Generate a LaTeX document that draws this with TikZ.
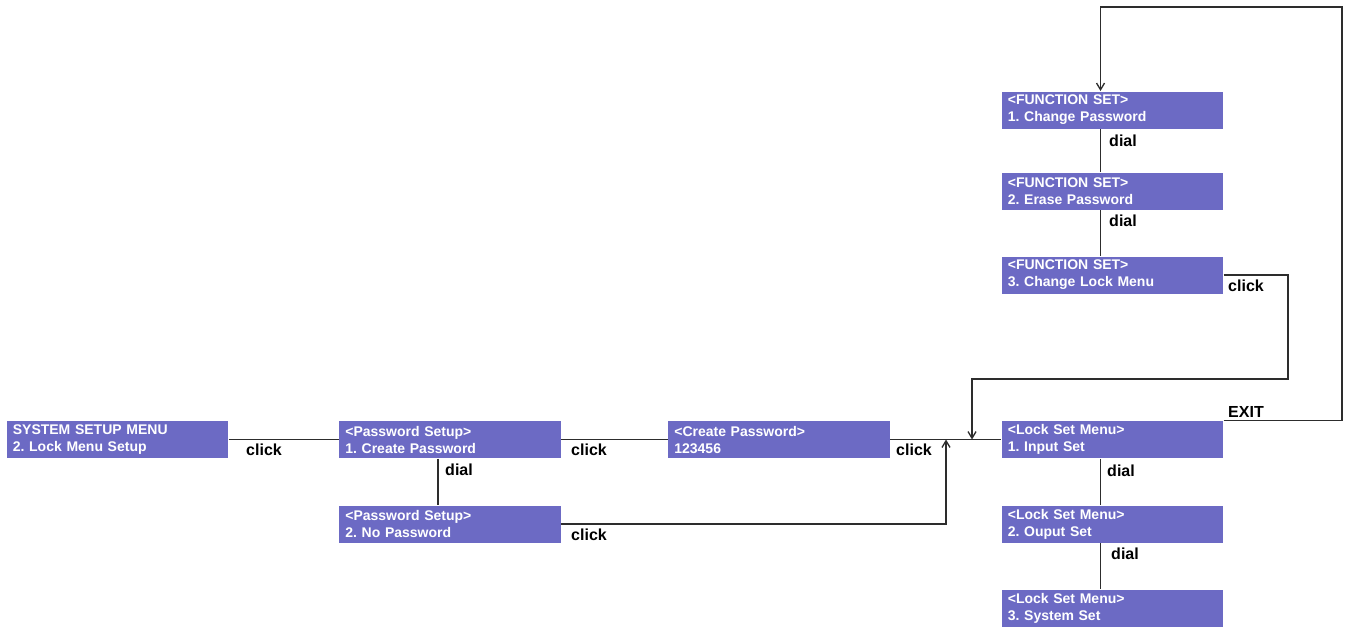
\documentclass[tikz,border=0pt]{standalone}
\usepackage{fontspec}
\setmainfont{Liberation Sans}
\usetikzlibrary{arrows.meta}
\frenchspacing

\definecolor{menublue}{RGB}{108,106,196}
\definecolor{wire}{RGB}{45,45,45}

\tikzset{every picture/.style={line width=0.75pt}}
\tikzset{
  menubox/.style={fill=menublue, draw=none, text=white, font=\fontsize{10.5}{12.75}\selectfont\bfseries,
    text width=157pt, align=left, minimum height=27.75pt, inner xsep=4.5pt, inner ysep=0pt},
  wirelbl/.style={font=\fontsize{12}{14}\selectfont\bfseries, inner sep=0pt},
  wireline/.style={draw=wire, line width=1pt},
  wirearrow/.style={wireline, -{Straight Barb[length=5pt,width=6pt]}}
}

\begin{document}
\begin{tikzpicture}[x=0.75pt,y=0.75pt,yscale=-1,xscale=1]
\useasboundingbox (0,0) rectangle (1345,626);

%Shape: Rectangle [id:sysmenu]
\node [menubox] (sys) at (117.5,439.5) {SYSTEM SETUP MENU\\2. Lock Menu Setup};
%Shape: Rectangle [id:pwsetup1]
\node [menubox] (pw1) at (450,439.5) {<Password Setup>\\1. Create Password};
%Shape: Rectangle [id:pwsetup2]
\node [menubox] (pw2) at (450,524) {<Password Setup>\\2. No Password};
%Shape: Rectangle [id:createpw]
\node [menubox] (cp) at (779,439.5) {<Create Password>\\123456};
%Shape: Rectangle [id:lockset1]
\node [menubox] (ls1) at (1112.5,439.5) {<Lock Set Menu>\\1. Input Set};
%Shape: Rectangle [id:lockset2]
\node [menubox] (ls2) at (1112.5,524) {<Lock Set Menu>\\2. Ouput Set};
%Shape: Rectangle [id:lockset3]
\node [menubox] (ls3) at (1112.5,608) {<Lock Set Menu>\\3. System Set};
%Shape: Rectangle [id:funcset1]
\node [menubox] (fs1) at (1112.5,110) {<FUNCTION SET>\\1. Change Password};
%Shape: Rectangle [id:funcset2]
\node [menubox] (fs2) at (1112.5,191) {<FUNCTION SET>\\2. Erase Password};
%Shape: Rectangle [id:funcset3]
\node [menubox] (fs3) at (1112.5,275) {<FUNCTION SET>\\3. Change Lock Menu};

%Straight Lines [id:joins]
\coordinate (join1) at (946,439.5);
\coordinate (join2) at (972,439.5);

%Straight Lines [id:clicks]
\draw [wireline] (sys.east) -- (pw1.west);
\draw [wireline] (pw1.east) -- (cp.west);
\draw [wireline] (cp.east) -- (ls1.west);
\draw [wirearrow] (pw2.east) -| (join1);
\draw [wirearrow] (fs3.east) -| (1288,379) -| (join2);
\draw [wirearrow] (ls1.north east) -| (1342,7) -| ([xshift=-9pt]fs1.north);
%Straight Lines [id:dials]
\draw [wireline] ([xshift=-9pt]pw1.south) -- ([xshift=-9pt]pw2.north);
\draw [wireline] ([xshift=-9pt]ls1.south) -- ([xshift=-9pt]ls2.north);
\draw [wireline] ([xshift=-9pt]ls2.south) -- ([xshift=-9pt]ls3.north);
\draw [wireline] ([xshift=-9pt]fs1.south) -- ([xshift=-9pt]fs2.north);
\draw [wireline] ([xshift=-9pt]fs2.south) -- ([xshift=-9pt]fs3.north);

% Text Node
\node [wirelbl] (c1) at (264,450) {click};
% Text Node
\node [wirelbl] (c2) at (589,450) {click};
% Text Node
\node [wirelbl] (c3) at (914,450) {click};
% Text Node
\node [wirelbl] (c4) at (589,535) {click};
% Text Node
\node [wirelbl] (c5) at (1246,286) {click};
% Text Node
\node [wirelbl] (ex) at (1246,412) {EXIT};
% Text Node
\node [wirelbl] (d1) at (459,470) {dial};
% Text Node
\node [wirelbl] (d2) at (1121,471) {dial};
% Text Node
\node [wirelbl] (d3) at (1125,554) {dial};
% Text Node
\node [wirelbl] (d4) at (1123,141) {dial};
% Text Node
\node [wirelbl] (d5) at (1123,221) {dial};

\end{tikzpicture}
\end{document}
